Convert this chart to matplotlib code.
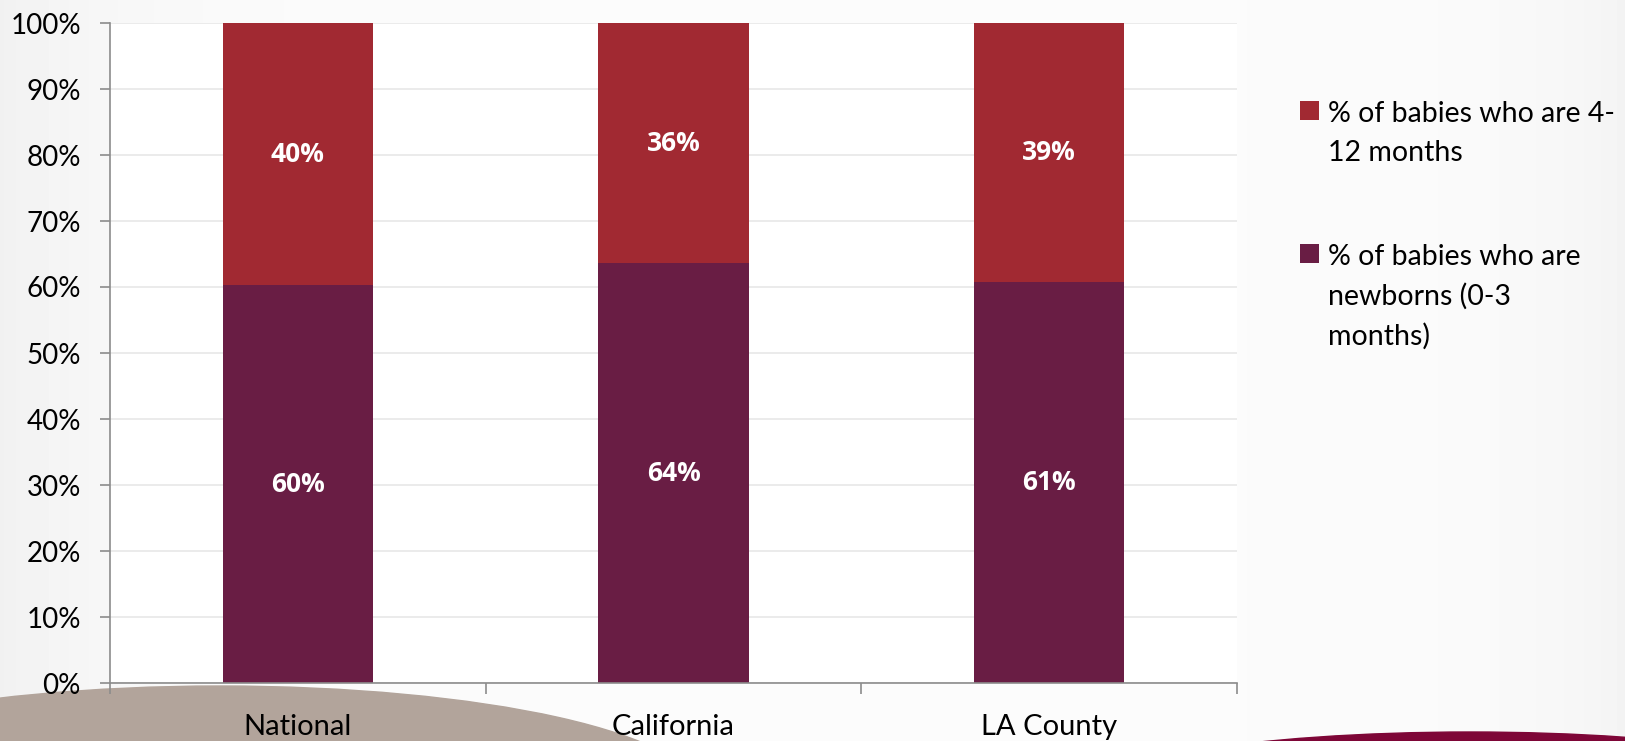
import numpy as np
import matplotlib.pyplot as plt
from matplotlib.patches import Ellipse
from matplotlib.ticker import FuncFormatter, FixedLocator

# age split of babies by region, in percent
regions = ["National", "California", "LA County"]
newborns = [60.3, 63.6, 60.8]
older = [39.7, 36.4, 39.2]
series_labels = ["% of babies who are 4-\n12 months",
                 "% of babies who are\nnewborns (0-3\nmonths)"]

plt.rcParams['font.family'] = ['Lato', 'DejaVu Sans']

W, H = 1625, 741
fig = plt.figure(figsize=(W / 100, H / 100), dpi=100)

# soft grey slide background with bottom decorations
bg = fig.add_axes([0, 0, 1, 1], zorder=-2)
xs = np.linspace(0, 1, 400)
shade = 0.985 - 0.04 * np.exp(-xs / 0.08) - 0.03 * np.exp(-(1 - xs) / 0.06)
bg.imshow(np.tile(shade, (10, 1)), cmap='gray', vmin=0, vmax=1,
          aspect='auto', extent=[0, W, 0, H])
bg.add_patch(Ellipse((220, H - 794), 960, 216, color='#b2a49b', zorder=3))
bg.add_patch(Ellipse((1470, H - 799), 800, 134, color='#7e0637', zorder=3))
bg.set_xlim(0, W)
bg.set_ylim(0, H)
bg.axis('off')

ax = fig.add_axes([110 / W, 58 / H, 1127 / W, 660 / H])
ax.set_facecolor('white')

x = np.arange(len(regions))
bw = 0.4
b1 = ax.bar(x, newborns, bw, color='#691d44', zorder=2)
b2 = ax.bar(x, older, bw, bottom=newborns, color='#a12932', zorder=2)

lbl = dict(ha='center', va='center', color='white', fontsize=19,
           fontweight='bold', family=['Open Sans', 'DejaVu Sans'], zorder=3)
for i in range(len(regions)):
    ax.text(x[i], newborns[i] / 2, f"{newborns[i]:.0f}%", **lbl)
    ax.text(x[i], newborns[i] + older[i] / 2, f"{older[i]:.0f}%", **lbl)

ax.set_xlim(-0.5, len(regions) - 0.5)
ax.set_ylim(0, 100)
ax.set_yticks(np.arange(0, 101, 10))
ax.yaxis.set_major_formatter(FuncFormatter(lambda v, p: f"{v:.0f}%"))
ax.grid(axis='y', color='#e8e8e8', linewidth=1.2, zorder=0)

ax.xaxis.set_major_locator(FixedLocator(np.arange(-0.5, len(regions), 1.0)))
ax.xaxis.set_minor_locator(FixedLocator(x))
ax.set_xticklabels([])
ax.set_xticklabels(regions, minor=True)
ax.tick_params(axis='x', which='major', length=8, color='#8c8c8c', width=1.2)
ax.tick_params(axis='x', which='minor', length=0, pad=22, labelsize=21)
ax.tick_params(axis='y', length=7, color='#8c8c8c', width=1.2, pad=14, labelsize=20)

for s in ['top', 'right']:
    ax.spines[s].set_visible(False)
for s in ['left', 'bottom']:
    ax.spines[s].set_color('#8c8c8c')
    ax.spines[s].set_linewidth(1.2)

leg = ax.legend([b2, b1], series_labels, loc='upper left',
                bbox_to_anchor=(1300 / W, (H - 101) / H), bbox_transform=fig.transFigure,
                frameon=False, fontsize=20.5, handlelength=0.65, handleheight=0.65,
                handletextpad=0.32, labelspacing=2.75, borderaxespad=0, borderpad=0)
for t in leg.get_texts():
    t.set_linespacing(1.6)
# put each square next to the first line of its label
for col in leg._legend_handle_box.get_children():
    for row in col.get_children():
        row.align = 'top'

fig.savefig("out.png", dpi=100)
